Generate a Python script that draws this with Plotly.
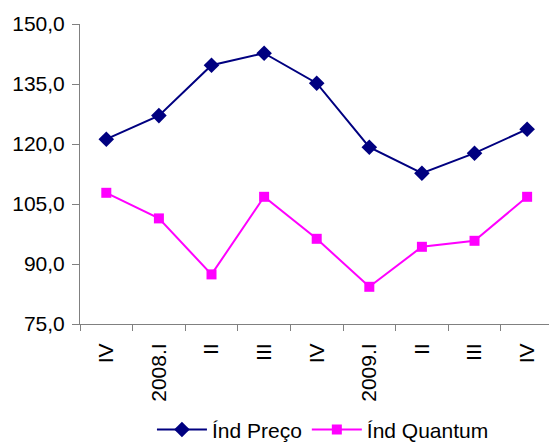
import plotly.graph_objects as go

# Quarterly indices, 2007.IV to 2009.IV
quarters = ["IV", "2008.I", "II", "III", "IV", "2009.I", "II", "III", "IV"]
ind_preco = [121.2, 127.1, 139.7, 142.7, 135.2, 119.2, 112.7, 117.7, 123.7]
ind_quantum = [107.8, 101.4, 87.4, 106.8, 96.3, 84.3, 94.3, 95.8, 106.8]

x_pos = list(range(len(quarters)))

fig = go.Figure()
fig.add_trace(go.Scatter(
    x=x_pos, y=ind_preco, name="Índ Preço", mode="lines+markers",
    line=dict(color="#000080", width=2),
    marker=dict(symbol="diamond", size=12, color="#000080"),
))
fig.add_trace(go.Scatter(
    x=x_pos, y=ind_quantum, name="Índ Quantum", mode="lines+markers",
    line=dict(color="#FF00FF", width=2),
    marker=dict(symbol="square", size=10, color="#FF00FF"),
))

font = dict(family="Liberation Sans, Arial, sans-serif", size=21, color="#000000")

fig.update_layout(
    width=549, height=444,
    margin=dict(l=80, r=0, t=24, b=120, autoexpand=False),
    paper_bgcolor="white", plot_bgcolor="white",
    separators=",.",
    font=font,
    showlegend=True,
    legend=dict(orientation="h", x=0.518, xanchor="center", y=-0.353, yanchor="middle",
                font=dict(size=21), itemwidth=50, tracegroupgap=0),
    xaxis=dict(
        range=[-0.5, 8.416], tickmode="array", tickvals=x_pos, ticktext=quarters,
        tickangle=-90, ticks="", ticklabelstandoff=10, showgrid=False, zeroline=False,
        showline=True, linecolor="#808080", linewidth=1, automargin=False,
        minor=dict(tickmode="linear", tick0=-0.5, dtick=1, ticks="outside",
                   ticklen=6, tickcolor="#808080", showgrid=False),
        tickfont=dict(size=21),
    ),
    yaxis=dict(
        range=[75, 150], tick0=75, dtick=15, tickformat=".1f",
        ticks="outside", ticklen=7, tickcolor="#808080", showgrid=False, zeroline=False,
        showline=True, linecolor="#808080", linewidth=1, ticklabelstandoff=3,
        automargin=False, tickfont=dict(size=21),
    ),
)

fig.write_html("out.html")
